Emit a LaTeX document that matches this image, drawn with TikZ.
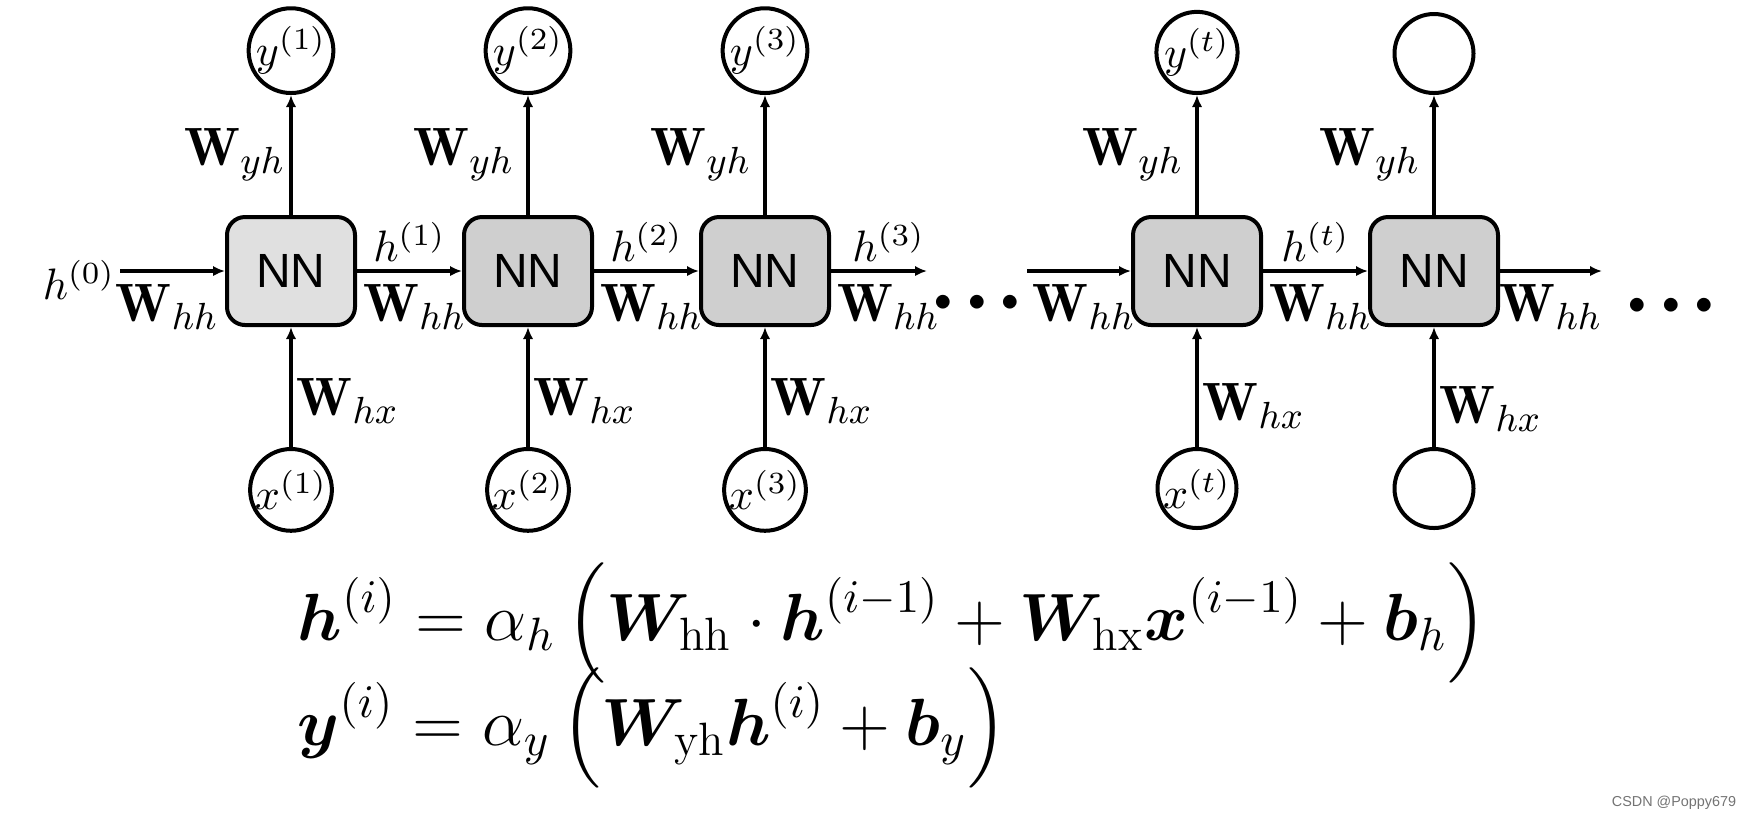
\RequirePackage{fix-cm}
\documentclass[tikz,border=0pt]{standalone}
\usepackage{amsmath,amssymb}
\usepackage{bm}
\usepackage{fontspec}
\newfontfamily\nnfont{Liberation Sans}
\usetikzlibrary{arrows.meta,positioning}

\begin{document}
\begin{tikzpicture}[x=0.25pt,y=-0.25pt,
  node distance=30pt and 26.25pt,
  nnbox/.style={draw=black,line width=1pt,rounded corners=4.5pt,fill=black!19,
                minimum width=32pt,minimum height=27pt,inner sep=0pt,
                font=\nnfont\fontsize{12}{14}\selectfont},
  nnfirst/.style={nnbox,fill=black!12},
  unit/.style={draw=black,line width=1pt,circle,minimum size=19.75pt,inner sep=0pt,
               font=\fontsize{11}{13}\selectfont},
  sig/.style={-{Latex[length=3pt,width=2.6pt]},draw=black,line width=0.9pt},
  wlab/.style={font=\fontsize{13.5}{15}\selectfont,inner sep=3pt},
  hlab/.style={font=\fontsize{11}{13}\selectfont,inner sep=1.9pt},
  dotlab/.style={font=\fontsize{8.3}{10}\selectfont,inner sep=0pt},
  eqlab/.style={anchor=base west,inner sep=0pt,font=\fontsize{16.7}{20}\selectfont}]

\path[use as bounding box] (0,0) rectangle (1746,818);

% row -- hidden units
\node[nnfirst] (nn1) at (291,271) {NN};
\node[nnbox,right=of nn1] (nn2) {NN};
\node[nnbox,right=of nn2] (nn3) {NN};
\node[nnbox,right=75pt of nn3] (nnt) {NN};
\node[nnbox,right=of nnt] (nnu) {NN};

% outputs and inputs
\node[unit,above=of nn1] (y1) {$y^{(1)}$};
\node[unit,above=of nn2] (y2) {$y^{(2)}$};
\node[unit,above=of nn3] (y3) {$y^{(3)}$};
\node[unit,above=of nnt] (yt) {$y^{(t)}$};
\node[unit,above=of nnu] (yu) {};
\node[unit,below=of nn1] (x1) {$x^{(1)}$};
\node[unit,below=of nn2] (x2) {$x^{(2)}$};
\node[unit,below=of nn3] (x3) {$x^{(3)}$};
\node[unit,below=of nnt] (xt) {$x^{(t)}$};
\node[unit,below=of nnu] (xu) {};

% recurrent connections
\coordinate (hin) at (120,271);
\coordinate (hout3) at (927,271);
\coordinate (hint) at (1027,271);
\coordinate (houtu) at (1602,271);
\node[hlab,left,inner sep=1pt] (h0) at ([yshift=-2.2pt]hin) {$h^{(0)}$};
\draw[sig] (hin) -- node[wlab,below,pos=0.45]{$\mathbf{W}_{hh}$} (nn1);
\draw[sig] (nn1) -- node[hlab,above]{$h^{(1)}$} node[wlab,below,pos=0.55]{$\mathbf{W}_{hh}$} (nn2);
\draw[sig] (nn2) -- node[hlab,above]{$h^{(2)}$} node[wlab,below,pos=0.55]{$\mathbf{W}_{hh}$} (nn3);
\draw[sig] (nn3) -- node[hlab,above,pos=0.6]{$h^{(3)}$} node[wlab,below,pos=0.6]{$\mathbf{W}_{hh}$} (hout3);
\node[dotlab] (dots1) at (977,303) {$\bullet\mkern4mu\bullet\mkern4mu\bullet$};
\draw[sig] (hint) -- node[wlab,below,pos=0.55]{$\mathbf{W}_{hh}$} (nnt);
\draw[sig] (nnt) -- node[hlab,above]{$h^{(t)}$} node[wlab,below,pos=0.55]{$\mathbf{W}_{hh}$} (nnu);
\draw[sig] (nnu) -- node[wlab,below,pos=0.5]{$\mathbf{W}_{hh}$} (houtu);
\node[dotlab] (dots2) at (1671,306) {$\bullet\mkern4mu\bullet\mkern4mu\bullet$};

% output and input weights
\draw[sig] (nn1) -- node[wlab,left,inner sep=1pt]{$\mathbf{W}_{yh}$} (y1);
\draw[sig] (nn2) -- node[wlab,left]{$\mathbf{W}_{yh}$} (y2);
\draw[sig] (nn3) -- node[wlab,left]{$\mathbf{W}_{yh}$} (y3);
\draw[sig] (nnt) -- node[wlab,left]{$\mathbf{W}_{yh}$} (yt);
\draw[sig] (nnu) -- node[wlab,left]{$\mathbf{W}_{yh}$} (yu);
\draw[sig] (x1) -- node[wlab,right,pos=0.38,inner sep=1pt]{$\mathbf{W}_{hx}$} (nn1);
\draw[sig] (x2) -- node[wlab,right,pos=0.38,inner sep=1pt]{$\mathbf{W}_{hx}$} (nn2);
\draw[sig] (x3) -- node[wlab,right,pos=0.38,inner sep=1pt]{$\mathbf{W}_{hx}$} (nn3);
\draw[sig] (xt) -- node[wlab,right,pos=0.34,inner sep=1pt]{$\mathbf{W}_{hx}$} (nnt);
\draw[sig] (xu) -- node[wlab,right,pos=0.32,inner sep=1pt]{$\mathbf{W}_{hx}$} (nnu);

% update equations
\node[eqlab] (eqh) at (297,640)
  {$\displaystyle \boldsymbol{h}^{(i)}=\alpha_h\left(\boldsymbol{W}_{\mathrm{hh}}\cdot\boldsymbol{h}^{(i-1)}+\boldsymbol{W}_{\mathrm{hx}}\boldsymbol{x}^{(i-1)}+\boldsymbol{b}_h\right)$};
\node[eqlab] (eqy) at (297,745)
  {$\displaystyle \boldsymbol{y}^{(i)}=\alpha_y\left(\boldsymbol{W}_{\mathrm{yh}}\boldsymbol{h}^{(i)}+\boldsymbol{b}_y\right)$};

\node[font=\nnfont\fontsize{3.6}{4}\selectfont,text=black!55] (mark) at (1674,803) {CSDN @Poppy679};

\end{tikzpicture}
\end{document}
